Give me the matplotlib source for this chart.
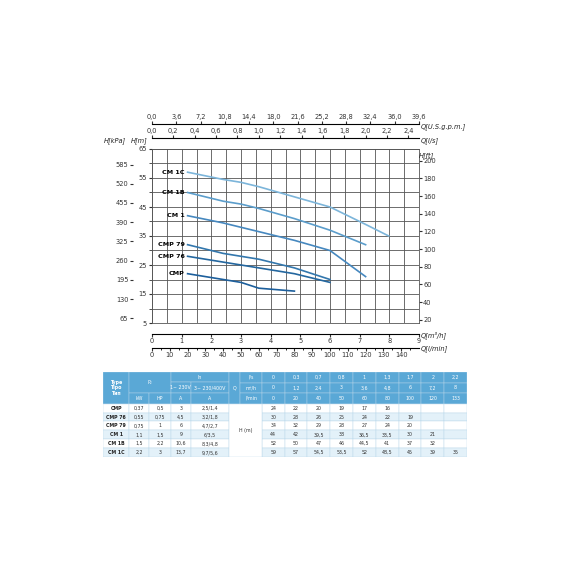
import matplotlib
matplotlib.use("Agg")
import matplotlib.pyplot as plt
import numpy as np
from matplotlib.patches import Rectangle

# ---- data ----
q_lmin = [0, 20, 40, 50, 60, 80, 100, 120, 133]
q_ls = ["0", "0,3", "0,7", "0,8", "1", "1,3", "1,7", "2", "2,2"]
q_m3h = ["0", "1,2", "2,4", "3", "3,6", "4,8", "6", "7,2", "8"]
models = ["CMP", "CMP 76", "CMP 79", "CM 1", "CM 1B", "CM 1C"]
kw = ["0,37", "0,55", "0,75", "1,1", "1,5", "2,2"]
hp = ["0,5", "0,75", "1", "1,5", "2,2", "3"]
amp1 = ["3", "4,5", "6", "9", "10,6", "13,7"]
amp3 = ["2,5/1,4", "3,2/1,8", "4,7/2,7", "6/3,5", "8,3/4,8", "9,7/5,6"]
heads = [
    [24, 22, 20, 19, 17, 16],
    [30, 28, 26, 25, 24, 22, 19],
    [34, 32, 29, 28, 27, 24, 20],
    [44, 42, 39.5, 38, 36.5, 33.5, 30, 21],
    [52, 50, 47, 46, 44.5, 41, 37, 32],
    [59, 57, 54.5, 53.5, 52, 48.5, 45, 39, 35],
]
colors = ["#1d5f9c", "#24679f", "#3377ad", "#4688bf", "#5b9dcb", "#7cb5da"]

def fmt(v):
    return (("%g" % v).replace(".", ","))

FS = 4.8
fig = plt.figure(figsize=(5.7, 5.7), dpi=100)
ax = fig.add_axes([152/570, 1-323/570, 267/570, 174/570])
ax.set_xlim(0, 150)
ax.set_ylim(5, 65)

for m, h, c in zip(models, heads, colors):
    x = q_lmin[1:len(h)]
    y = h[1:]
    ax.plot(x, y, color=c, lw=1.2)
    ax.text(x[0]-1.5, y[0], m, ha="right", va="center", fontsize=4.6, fontweight="bold")

ax.set_xticks(np.arange(0, 150.1, 150/18), minor=True)
ax.set_xticks([])
ax.set_yticks(np.arange(5, 66, 10))
ax.set_yticks(np.arange(5, 66, 5), minor=True)
ax.grid(True, which="both", color="#555555", lw=0.6)
ax.xaxis.grid(True, which="minor", color="#555555", lw=0.6)
ax.tick_params(axis="y", which="both", labelsize=FS, length=2, colors="#333333", pad=1.5)
ax.tick_params(axis="x", which="both", length=0)
for s in ax.spines.values():
    s.set_color("#555555"); s.set_linewidth(0.6)

kpa = ax.secondary_yaxis("left", functions=(lambda m: m*9.81, lambda k: k/9.81))
kpa.spines["left"].set_position(("outward", 14))
kpa.set_yticks([65, 130, 195, 260, 325, 390, 455, 520, 585])
kpa.tick_params(labelsize=FS, length=2, colors="#333333", pad=1)
kpa.spines["left"].set_visible(False)
ft = ax.secondary_yaxis("right", functions=(lambda m: m*3.281, lambda f: f/3.281))
ft.set_yticks(np.arange(20, 201, 20))
ft.tick_params(labelsize=FS, length=2, colors="#333333", pad=1)
ft.spines["right"].set_visible(False)

ls = ax.secondary_xaxis("top", functions=(lambda q: q/60, lambda s: s*60))
lv = np.arange(0, 2.41, 0.2)
ls.set_xticks(lv)
ls.set_xticklabels([("%.1f" % v).replace(".", ",") for v in lv])
ls.spines["top"].set_position(("outward", 8))
ls.tick_params(labelsize=FS, length=2, colors="#333333", pad=1)
gpm = ax.secondary_xaxis("top", functions=(lambda q: q*0.26417, lambda g: g/0.26417))
gv = np.arange(0, 39.7, 3.6)
gpm.set_xticks(gv)
gpm.set_xticklabels([("%.1f" % v).replace(".", ",") for v in gv])
gpm.spines["top"].set_position(("outward", 18))
gpm.tick_params(labelsize=FS, length=2, colors="#333333", pad=1)
m3 = ax.secondary_xaxis("bottom", functions=(lambda q: q*0.06, lambda v: v/0.06))
m3.set_xticks(range(0, 10))
m3.spines["bottom"].set_position(("outward", 8))
m3.tick_params(labelsize=FS, length=2, colors="#333333", pad=1)
lm = ax.secondary_xaxis("bottom")
lm.set_xticks(range(0, 141, 10))
lm.set_xticks(range(0, 150, 5), minor=True)
lm.spines["bottom"].set_position(("outward", 18))
lm.tick_params(labelsize=FS, length=2, colors="#333333", pad=1)
lm.tick_params(which="minor", length=1.5)

ts = dict(fontsize=4.8, style="italic", color="#222222")
fig.text(104/570, 1-142/570, "H[kPa]", **ts)
fig.text(131/570, 1-142/570, "H[m]", **ts)
fig.text(421/570, 1-142/570, "Q[l/s]", **ts)
fig.text(421/570, 1-128/570, "Q[U.S.g.p.m.]", **ts)
fig.text(419/570, 1-157/570, "H[ft]", **ts)
fig.text(421/570, 1-337/570, "Q[m³/h]", **ts)
fig.text(421/570, 1-350/570, "Q[l/min]", **ts)

# ---- table ----
tx = fig.add_axes([103/570, 1-457/570, 364/570, 85/570])
tx.set_xlim(0, 1100); tx.set_ylim(255, 0); tx.axis("off")
hb = "#5aa8d6"; lb = "#e3f1f9"
cols = [0, 80, 140, 205, 265, 380, 415, 480] + list(np.linspace(480, 1100, 10)[1:])
def cell(x0, x1, y0, y1, fc, txt="", tc="#333333", bold=False):
    tx.add_patch(Rectangle((x0, y0), x1-x0, y1-y0, fc=fc, ec="#b8d7ea", lw=0.3))
    if txt:
        tx.text((x0+x1)/2, (y0+y1)/2, txt, ha="center", va="center", fontsize=3.4, color=tc,
                fontweight="bold" if bold else "normal")
W = "white"
cell(0, 80, 0, 95, hb, "Type\nTipo\nTип", W, True)
cell(80, 205, 0, 63, hb, "P₂", W)
cell(80, 140, 63, 95, hb, "kW", W); cell(140, 205, 63, 95, hb, "HP", W)
cell(205, 380, 0, 31, hb, "In", W)
cell(205, 265, 31, 63, hb, "1~ 230V", W); cell(265, 380, 31, 63, hb, "3~ 230/400V", W)
cell(205, 265, 63, 95, hb, "A", W); cell(265, 380, 63, 95, hb, "A", W)
cell(380, 415, 0, 95, hb, "Q", W)
for i, (u, vals) in enumerate([("l/s", q_ls), ("m³/h", q_m3h), ("l/min", [str(v) for v in q_lmin])]):
    cell(415, 480, i*31.7, (i+1)*31.7, hb, u, W)
    for j, v in enumerate(vals):
        cell(cols[7+j], cols[8+j], i*31.7, (i+1)*31.7, hb, v, W)
for r, m in enumerate(models):
    y0 = 95 + r*26.7; y1 = y0 + 26.7
    fc = lb if r % 2 else "white"
    cell(0, 80, y0, y1, fc, m, "#222222", True)
    for k, v in enumerate([kw[r], hp[r], amp1[r], amp3[r]]):
        cell(cols[1+k], cols[2+k], y0, y1, fc, v)
    for j in range(9):
        v = fmt(heads[r][j]) if j < len(heads[r]) else ""
        cell(cols[7+j], cols[8+j], y0, y1, fc, v)
cell(380, 480, 95, 255, "white", "H (m)")

fig.savefig("out.png", dpi=100)
